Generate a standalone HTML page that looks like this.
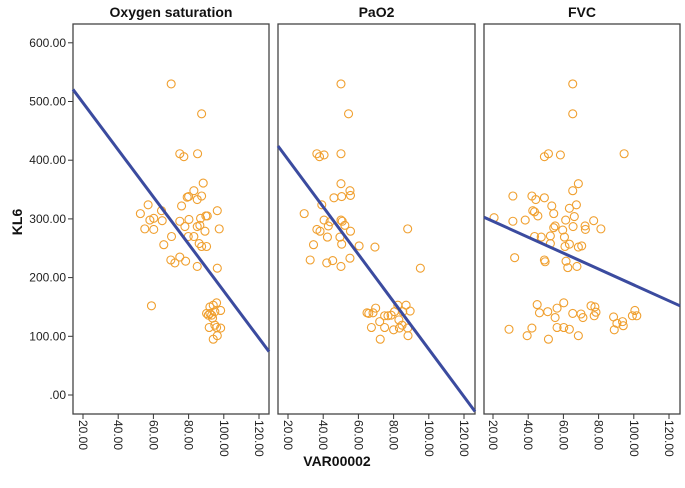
<!DOCTYPE html>
<html><head><meta charset="utf-8"><style>
body{margin:0;background:#fff;}
svg{display:block;font-family:"Liberation Sans",Arial,sans-serif;}
</style></head><body>
<svg id="chart" width="685" height="488"></svg>
<script>
const panelTitles = ["Oxygen saturation","PaO2","FVC"];
const yTicks = [0,100,200,300,400,500,600];
const yTickLabels = [".00","100.00","200.00","300.00","400.00","500.00","600.00"];
const xTicks = [20,40,60,80,100,120];
const xTickLabels = ["20.00","40.00","60.00","80.00","100.00","120.00"];
const fitIntercepts = [578,482,323];
const fitSlopes = [-4.01,-4.04,-1.355];
const oxyX = [70.1,87.4,75.0,77.3,85.1,88.3,83.0,80.0,79.2,84.9,87.4,76.0,57.0,52.6,64.6,58.0,60.2,65.0,80.2,75.0,86.8,89.8,90.6,96.3,55.1,60.2,77.9,84.9,86.4,89.3,97.4,79.8,83.0,70.3,65.9,86.0,87.4,90.2,69.9,72.2,75.0,78.3,84.9,96.3,58.9,92.1,95.9,94.0,90.2,92.1,93.1,94.9,98.2,91.7,95.9,98.2,94.0,96.3,91.2,93.6,94.9];
const oxyY = [530,479,411,406,411,361,348,338,337,333,339,322,324,309,314,298,301,297,299,296,301,305,305,314,283,282,287,287,289,279,283,270,270,270,256,258,253,253,230,225,235,228,219,216,152,150,157,153,139,139,136,142,144,115,115,114,95,101,136,131,119];
const paoX = [50.1,54.4,36.4,37.9,40.5,50.1,50.1,55.2,55.5,46.1,50.5,39.2,29.2,40.5,43.9,50.1,50.8,52.3,36.4,38.2,55.5,42.9,88.0,42.4,49.5,34.5,50.5,60.4,69.4,32.6,42.0,45.4,55.2,50.1,95.2,64.9,65.9,68.3,69.8,82.4,87.1,89.4,85.2,74.9,76.8,78.6,80.5,72.1,67.4,74.9,80.0,83.3,84.8,88.0,88.2,72.4,83.0];
const paoY = [530,479,411,406,409,411,360,348,340,336,338,324,309,298,295,298,296,289,282,279,279,288,283,269,269,256,257,254,252,230,225,229,233,219,216,140,139,140,148,153,153,143,142,135,135,136,142,125,115,115,111,114,119,114,101,95,128];
const fvcX = [65.3,65.3,49.2,51.5,58.3,94.5,68.5,65.3,31.3,42.1,44.3,49.2,53.4,67.4,63.4,42.6,43.6,54.5,45.5,66.2,20.6,31.3,38.3,61.3,55.3,54.5,59.6,65.5,72.3,72.5,77.2,81.3,43.6,47.4,52.6,60.6,52.6,60.9,63.4,68.5,70.4,32.3,49.2,49.6,61.5,62.5,67.7,45.1,60.2,46.4,51.1,56.4,55.3,65.3,70.0,71.1,75.7,77.9,78.5,77.5,88.5,90.4,93.6,88.9,94.0,99.2,100.6,101.7,29.1,42.1,39.4,51.5,56.4,60.2,63.4,68.5];
const fvcY = [530,479,406,411,409,411,360,348,339,339,333,336,322,324,318,314,312,309,305,304,302,296,298,298,288,285,281,287,288,282,297,283,270,269,271,269,258,253,257,252,254,234,230,227,228,217,219,154,157,140,142,148,132,139,138,132,152,150,141,135,133,122,125,111,118,135,144,135,112,114,101,95,115,115,112,101];

const NS="http://www.w3.org/2000/svg";
const svgEl=document.getElementById('chart');
function mk(tag,attrs,parent){const e=document.createElementNS(NS,tag);for(const k in attrs)e.setAttribute(k,attrs[k]);(parent||svgEl).appendChild(e);return e;}
const frames=[{l:73,r:269,x20:83},{l:278,r:475,x20:288},{l:484,r:680,x20:493}];
const plotTop=24,plotBottom=414;
const yScale=v=>395-v*0.587;
const seriesX=[oxyX,paoX,fvcX], seriesY=[oxyY,paoY,fvcY];
const names=['oxygen-saturation','pao2','fvc'];

yTicks.forEach((t,i)=>{
  const y=yScale(t);
  const tk=mk('line',{x1:68,x2:73,y1:y,y2:y,stroke:'#333','stroke-width':1});
  
  
  const tx=mk('text',{x:66,y:y+4,'text-anchor':'end','font-size':12,fill:'#222'});
  tx.textContent=yTickLabels[i];
  
  
});
const yl=mk('text',{x:0,y:0,transform:'translate(22,222) rotate(-90)','text-anchor':'middle','font-size':14,'font-weight':'bold',fill:'#111'});
yl.textContent='KL6';



frames.forEach((f,p)=>{
  const g=mk('g',{});
  
  
  const xs=v=>f.x20+(v-20)*1.76;
  const t=mk('text',{x:(f.l+f.r)/2,y:17,'text-anchor':'middle','font-size':14,'font-weight':'bold',fill:'#111'},g);
  t.textContent=panelTitles[p];
  
  
  const r=mk('rect',{x:f.l,y:plotTop,width:f.r-f.l,height:plotBottom-plotTop,fill:'#fff',stroke:'#444','stroke-width':1.3},g);
  
  
  xTicks.forEach((v,i)=>{
    const x=xs(v);
    const tk=mk('line',{x1:x,x2:x,y1:plotBottom,y2:plotBottom+5,stroke:'#333'},g);
    
    
    const tx=mk('text',{x:0,y:0,transform:`translate(${x-4},${plotBottom+6}) rotate(90)`,'font-size':12,fill:'#222'},g);
    tx.textContent=xTickLabels[i];
    
    
  });
  const X=seriesX[p],Y=seriesY[p];
  X.forEach((xv,i)=>{
    const c=mk('circle',{cx:xs(xv),cy:yScale(Y[i]),r:4,fill:'none',stroke:'#f0a030','stroke-width':1.1},g);
    
    
  });
  const xa=20+(f.l-f.x20)/1.76, xb=20+(f.r-f.x20)/1.76;
  const ya=fitIntercepts[p]+fitSlopes[p]*xa, yb=fitIntercepts[p]+fitSlopes[p]*xb;
  const ln=mk('line',{x1:f.l,y1:yScale(ya),x2:f.r,y2:yScale(yb),stroke:'#3b4b9f','stroke-width':3},g);
  
  
});
const xl=mk('text',{x:337,y:466,'text-anchor':'middle','font-size':14,'font-weight':'bold',fill:'#111'});
xl.textContent='VAR00002';


</script>
</body></html>
